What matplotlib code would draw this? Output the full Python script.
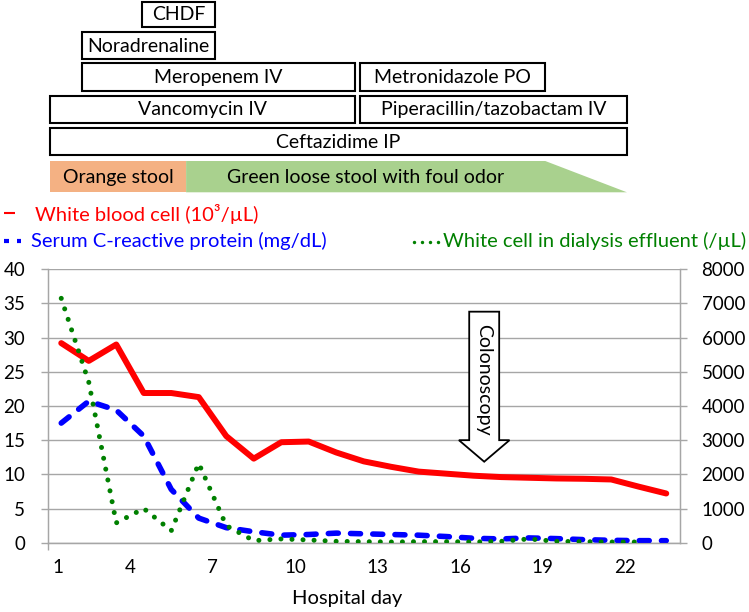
import matplotlib
matplotlib.use('Agg')
import matplotlib.pyplot as plt
import matplotlib.transforms as mtransforms
from matplotlib.patches import Rectangle, Polygon

plt.rcParams['font.family'] = ['Lato', 'DejaVu Sans']

# ---------------- data ----------------
days = list(range(1, 24))
wbc = [29.2, 26.6, 29.0, 21.9, 21.9, 21.3, 15.6, 12.3, 14.7, 14.8, 13.2, 11.9,
       11.1, 10.4, 10.1, 9.8, 9.6, 9.5, 9.4, 9.35, 9.25, 8.2, 7.2]
crp = [17.5, 20.7, 19.4, 15.6, 7.8, 3.6, 2.2, 1.6, 1.1, 1.2, 1.4, 1.3, 1.2,
       1.1, 0.9, 0.65, 0.55, 0.7, 0.6, 0.45, 0.35, 0.3, 0.3]
effluent_days = list(range(1, 23))
effluent = [7150, 4700, 580, 1000, 350, 2320, 500, 60, 110, 80, 40, 30, 20,
            30, 30, 20, 40, 110, 40, 30, 20, 20]

x_tick_labels = ['1', '4', '7', '10', '13', '16', '19', '22']
left_ticks = [0, 5, 10, 15, 20, 25, 30, 35, 40]
right_ticks = [0, 1000, 2000, 3000, 4000, 5000, 6000, 7000, 8000]

# therapy timeline: (label, start day, end day, row from top)
therapies = [
    ('CHDF', 3.95, 6.6, 0),
    ('Noradrenaline', 1.75, 6.6, 1),
    ('Meropenem IV', 1.75, 11.68, 2),
    ('Metronidazole PO', 11.86, 18.6, 2),
    ('Vancomycin IV', 0.6, 11.68, 3),
    ('Piperacillin/tazobactam IV', 11.86, 21.57, 3),
    ('Ceftazidime IP', 0.6, 21.57, 4),
]
stool_orange = ('Orange stool', 0.6, 5.54)
stool_green = ('Green loose stool with foul odor', 5.54, 18.6, 21.57)
colonoscopy_day = 16.38

series_labels = ['White blood cell (10\u00b3/\u00b5L)',
                 'Serum C-reactive protein (mg/dL)',
                 'White cell in dialysis effluent (/\u00b5L)']

# ---------------- figure ----------------
W, H = 749, 612
fig = plt.figure(figsize=(W / 100, H / 100), dpi=100)

ov = fig.add_axes([0, 0, 1, 1])
ov.set_xlim(0, W)
ov.set_ylim(H, 0)
ov.axis('off')

ax = fig.add_axes([47.5 / W, 1 - 542.7 / H, 632.5 / W, 273.4 / H])
ax.set_xlim(0.5, 23.5)
ax.set_ylim(0, 40)
ax.patch.set_alpha(0)

grid_c = '#a6a6a6'
for s in ['left', 'right', 'bottom', 'top']:
    ax.spines[s].set_color(grid_c)
    ax.spines[s].set_linewidth(1.0)
ax.spines['top'].set_visible(False)

ax.set_yticks(left_ticks)
ax.set_yticklabels([str(v) for v in left_ticks])
ax.yaxis.grid(True, color=grid_c, linewidth=1.0)
ax.set_axisbelow(True)
ax.tick_params(axis='y', direction='out', length=5, width=1.0, color=grid_c,
               labelsize=13.5, pad=11)

pos = [int(l) - 0.5 for l in x_tick_labels]
pos[0] = 0.87
ax.set_xticks(pos)
ax.set_xticklabels(x_tick_labels)
ax.tick_params(axis='x', which='major', length=0, labelsize=13.5, pad=12)
ax.set_xticks([int(l) - 0.5 for l in x_tick_labels], minor=True)
ax.tick_params(axis='x', which='minor', direction='out', length=5, width=1.0,
               color=grid_c)

ax.plot(days, wbc, color='#ff0000', lw=4.3, solid_joinstyle='round',
        solid_capstyle='round', zorder=3)
ax.plot(days, crp, color='#0000ff', lw=4.0, dashes=(1.8, 2.2),
        dash_capstyle='round', dash_joinstyle='round', zorder=3)

ax2 = ax.twinx()
ax2.set_ylim(0, 8000)
ax2.set_yticks(right_ticks)
ax2.set_yticklabels([str(v) for v in right_ticks])
ax2.tick_params(axis='y', direction='out', length=5, width=1.0, color=grid_c,
                labelsize=13.5, pad=10.5)
for s in ['left', 'right', 'bottom', 'top']:
    ax2.spines[s].set_color(grid_c)
ax2.spines['top'].set_visible(False)
ax2.plot(effluent_days, effluent, color='#008000', lw=3.6, dashes=(0.01, 2.2),
         dash_capstyle='round', zorder=4)

# Colonoscopy arrow (in left-axis data units, drawn on the right axis)
bw, hw = 0.545, 0.92
top, base, tip = 33.8, 15.0, 11.85
pts = [[colonoscopy_day - bw, top], [colonoscopy_day + bw, top],
       [colonoscopy_day + bw, base], [colonoscopy_day + hw, base],
       [colonoscopy_day, tip], [colonoscopy_day - hw, base],
       [colonoscopy_day - bw, base]]
ax2.add_patch(Polygon([[x, y * 200] for x, y in pts], closed=True,
                      facecolor='white', edgecolor='black', lw=1.3, zorder=6))
ax2.text(colonoscopy_day - 0.03, 23.9 * 200, 'Colonoscopy', rotation=270,
         ha='center', va='center', fontsize=14, zorder=7)

# ---------------- therapy boxes ----------------
trans = mtransforms.blended_transform_factory(ax.transData, ov.transData)
rows = [(1.7, 26.7), (32.3, 59.0), (63.3, 90.7), (95.7, 122.7), (127.7, 155.0)]
for label, d0, d1, r in therapies:
    y0, y1 = rows[r]
    ov.add_patch(Rectangle((d0, y0), d1 - d0, y1 - y0, transform=trans,
                           facecolor='white', edgecolor='black', lw=1.5,
                           clip_on=False))
    ov.text((d0 + d1) / 2, (y0 + y1) / 2 + 6.3, label, transform=trans,
            ha='center', va='baseline', fontsize=14)

sy0, sy1 = 161.0, 192.3
lab, d0, d1 = stool_orange
ov.add_patch(Rectangle((d0, sy0), d1 - d0, sy1 - sy0, transform=trans,
                       facecolor='#f4b183', edgecolor='none', clip_on=False))
ov.text((d0 + d1) / 2, (sy0 + sy1) / 2 + 6.3, lab, transform=trans,
        ha='center', va='baseline', fontsize=14)
lab, d0, d1, d2 = stool_green
ov.add_patch(Polygon([[d0, sy0], [d1, sy0], [d2, sy1], [d0, sy1]],
                     transform=trans, facecolor='#a9d18e', edgecolor='none',
                     clip_on=False))
ov.text((d0 + d1) / 2, (sy0 + sy1) / 2 + 6.3, lab, transform=trans,
        ha='center', va='baseline', fontsize=14)

# ---------------- legend ----------------
ov.plot([4, 15], [213, 213], color='#ff0000', lw=1.5, solid_capstyle='butt')
ov.text(35, 220.7, series_labels[0], color='#ff0000', fontsize=14.5,
        ha='left', va='baseline')
ov.plot([4, 8.5], [240.5, 240.5], color='#0000ff', lw=3.0, solid_capstyle='butt')
ov.plot([16.5, 21], [240.5, 240.5], color='#0000ff', lw=3.0, solid_capstyle='butt')
ov.text(30.7, 247.3, series_labels[1], color='#0000ff', fontsize=14.5,
        ha='left', va='baseline')
ov.scatter([414, 422, 430, 438], [241.5] * 4, s=6, color='#008000', lw=0)
ov.text(442.7, 247.3, series_labels[2], color='#008000', fontsize=14.5,
        ha='left', va='baseline')

ov.text(347, 604, 'Hospital day', fontsize=14.5, ha='center', va='baseline')

fig.savefig('out.png', dpi=100)
